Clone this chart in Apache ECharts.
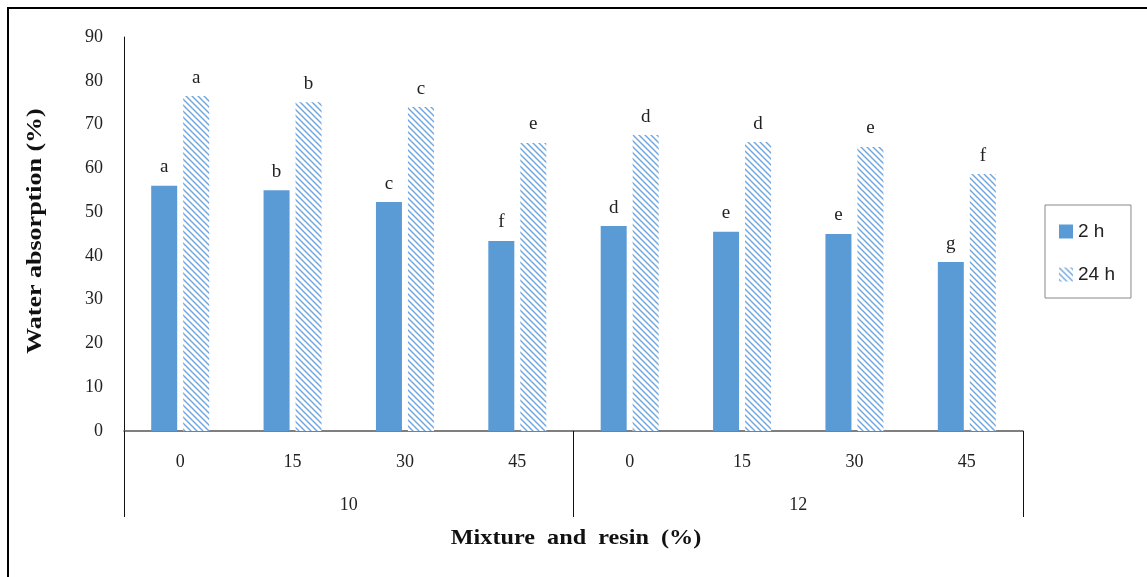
<!DOCTYPE html>
<html>
<head>
<meta charset="utf-8">
<script src="https://cdn.jsdelivr.net/npm/echarts@6/dist/echarts.min.js"></script>
<style>html,body{margin:0;padding:0;background:#fff}#c{width:1147px;height:577px}</style>
</head>
<body>
<div id="c"></div>
<script>
const categories = ['0', '15', '30', '45', '0', '15', '30', '45'];
const groups = ['10', '12'];
const values2h = [56.0, 55.0, 52.3, 43.4, 46.8, 45.5, 45.0, 38.6];
const values24h = [76.5, 75.1, 74.0, 65.8, 67.6, 66.0, 64.9, 58.7];
const letters2h = ['a', 'b', 'c', 'f', 'd', 'e', 'e', 'g'];
const letters24h = ['a', 'b', 'c', 'e', 'd', 'd', 'e', 'f'];
const yTicks = [0, 10, 20, 30, 40, 50, 60, 70, 80, 90];
const yTitle = 'Water absorption (%)';
const xTitle = 'Mixture  and  resin  (%)';

function hatch() {
  const c = document.createElement('canvas');
  c.width = 6; c.height = 6;
  const g = c.getContext('2d');
  g.fillStyle = '#ffffff';
  g.fillRect(0, 0, 6, 6);
  g.strokeStyle = '#6fa6dc';
  g.lineWidth = 1.4;
  g.beginPath();
  g.moveTo(-1, -1); g.lineTo(7, 7);
  g.moveTo(-1, 5); g.lineTo(1, 7);
  g.moveTo(5, -1); g.lineTo(7, 1);
  g.stroke();
  return c;
}

const serif = '"Liberation Serif", "Times New Roman", serif';
const chart = echarts.init(document.getElementById('c'));
chart.setOption({
  animation: false,
  backgroundColor: '#fff',
  grid: { left: 124, right: 124, top: 37, bottom: 146 },
  graphic: [
    { type: 'rect', shape: { x: 8, y: 8, width: 1160, height: 600 }, style: { fill: 'none', stroke: '#000', lineWidth: 2 } },
    { type: 'text', x: 576, y: 538, scaleX: 1.1,
      style: { text: xTitle, font: 'bold 22px ' + serif, fill: '#111', align: 'center', verticalAlign: 'middle' } },
    { type: 'text', x: 36, y: 231, rotation: Math.PI / 2, scaleX: 1.3,
      style: { text: yTitle, font: 'bold 20px ' + serif, fill: '#111', align: 'center', verticalAlign: 'middle' } }
  ],
  legend: {
    orient: 'vertical',
    left: 1045, top: 205,
    padding: [17, 16, 14, 14],
    itemGap: 24,
    itemWidth: 14, itemHeight: 14,
    icon: 'rect',
    borderColor: '#888', borderWidth: 1,
    textStyle: { fontFamily: '"Liberation Sans", Arial, sans-serif', fontSize: 19, color: '#222' },
    data: ['2 h', '24 h']
  },
  xAxis: [
    {
      type: 'category', data: categories, position: 'bottom',
      axisLine: { lineStyle: { color: '#555', width: 1.5 } },
      axisTick: { show: false },
      axisLabel: { fontFamily: serif, fontSize: 18, color: '#222', margin: 22 }
    },
    {
      type: 'category', data: groups, position: 'bottom',
      axisLine: { show: false },
      axisTick: { show: true, length: 86, lineStyle: { color: '#111', width: 1 } },
      axisLabel: { fontFamily: serif, fontSize: 18, color: '#222', margin: 65 }
    }
  ],
  yAxis: {
    type: 'value', min: 0, max: 90, interval: 10,
    axisLine: { show: true, lineStyle: { color: '#111', width: 1 } },
    axisTick: { show: false },
    splitLine: { show: false },
    axisLabel: { fontFamily: serif, fontSize: 18, color: '#222', margin: 21,
      formatter: v => yTicks.includes(v) ? String(v) : '' }
  },
  series: [
    {
      name: '2 h', type: 'bar', xAxisIndex: 0, data: values2h,
      barWidth: 26, barGap: '23%',
      itemStyle: { color: '#5b9bd5' },
      label: { show: true, position: 'top', distance: 9, fontFamily: serif, fontSize: 19, color: '#222',
        formatter: p => letters2h[p.dataIndex] }
    },
    {
      name: '24 h', type: 'bar', xAxisIndex: 0, data: values24h,
      barWidth: 26,
      itemStyle: { color: { image: hatch(), repeat: 'repeat' } },
      label: { show: true, position: 'top', distance: 9, fontFamily: serif, fontSize: 19, color: '#222',
        formatter: p => letters24h[p.dataIndex] }
    }
  ]
});
</script>
</body>
</html>
